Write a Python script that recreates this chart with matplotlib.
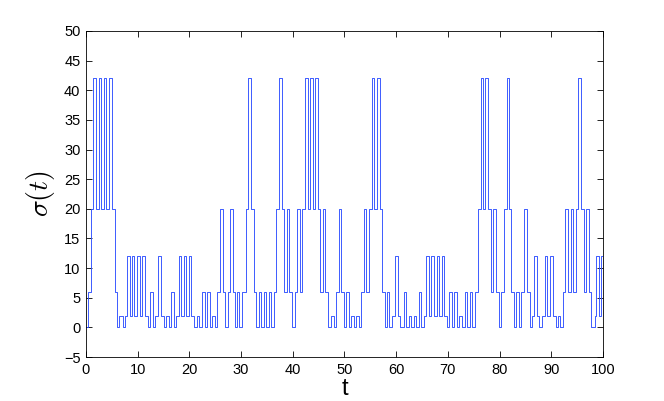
import numpy as np
import matplotlib
matplotlib.use("Agg")
import matplotlib.pyplot as plt

# switching instants and the mode value held from each instant on
t_switch = [0, 0.35, 0.94, 1.45, 1.90, 2.48, 3.00, 3.39, 3.90, 4.36, 5.00, 5.52,
            5.97, 6.42, 7.07, 7.52, 7.97, 8.42, 8.88, 9.33, 9.84, 10.36, 10.87, 11.45,
            11.90, 12.36, 12.94, 13.39, 13.84, 14.55, 15.00, 15.46, 15.97, 16.42, 16.94, 17.39,
            17.91, 18.36, 18.88, 19.33, 19.85, 20.36, 20.81, 21.46, 21.91, 22.43, 22.94, 23.40,
            23.91, 24.36, 24.88, 25.33, 25.85, 26.43, 26.81, 27.46, 27.85, 28.37, 28.75, 29.20,
            29.65, 30.17, 30.94, 31.40, 31.90, 32.43, 32.88, 33.40, 33.85, 34.36, 34.82, 35.33,
            35.78, 36.30, 36.82, 37.33, 37.92, 38.37, 38.88, 39.27, 39.85, 40.37, 40.82, 41.33,
            41.79, 42.30, 42.88, 43.34, 43.85, 44.24, 44.82, 45.34, 45.86, 46.31, 46.76, 47.40,
            47.92, 48.37, 48.89, 49.34, 49.95, 50.37, 50.82, 51.34, 51.79, 52.30, 52.76, 53.21,
            53.73, 54.18, 54.70, 55.34, 55.79, 56.30, 56.82, 57.27, 57.79, 58.25, 58.70, 59.21,
            59.86, 60.37, 60.83, 61.47, 61.92, 62.44, 62.89, 63.41, 63.86, 64.38, 64.83, 65.34,
            65.86, 66.38, 66.83, 67.35, 67.80, 68.31, 68.83, 69.34, 69.86, 70.31, 70.83, 71.28,
            71.80, 72.18, 72.64, 73.28, 73.73, 74.25, 74.70, 75.22, 75.80, 76.32, 76.77, 77.16,
            77.74, 78.25, 78.77, 79.35, 79.86, 80.31, 80.83, 81.35, 81.87, 82.25, 82.77, 83.22,
            83.74, 84.19, 84.70, 85.35, 85.80, 86.32, 86.70, 87.17, 87.60, 88.25, 88.77, 89.22,
            89.74, 90.32, 90.84, 91.29, 91.68, 92.26, 92.65, 93.23, 93.74, 94.26, 94.84, 95.22,
            95.80, 96.32, 96.77, 97.29, 97.74, 98.39, 98.71, 99.22, 99.55]
sigma = [0, 6, 20, 42, 20, 42, 20, 42, 20, 42, 20, 6,
         0, 2, 0, 2, 12, 2, 12, 2, 12, 2, 12, 2,
         0, 6, 0, 2, 12, 2, 0, 2, 0, 6, 0, 2,
         12, 2, 12, 2, 12, 2, 0, 2, 0, 6, 0, 6,
         0, 2, 0, 6, 20, 6, 0, 6, 20, 6, 0, 6,
         0, 6, 20, 42, 20, 6, 0, 6, 0, 6, 0, 6,
         0, 6, 20, 42, 20, 6, 20, 6, 0, 6, 20, 6,
         20, 42, 20, 42, 20, 42, 20, 6, 20, 6, 0, 2,
         0, 6, 20, 6, 0, 6, 0, 2, 0, 2, 0, 6,
         20, 6, 20, 42, 20, 42, 20, 6, 0, 6, 0, 2,
         12, 2, 0, 6, 0, 2, 0, 2, 0, 6, 0, 2,
         12, 2, 12, 2, 12, 2, 12, 2, 0, 6, 0, 6,
         0, 2, 0, 6, 0, 6, 0, 6, 20, 42, 20, 42,
         20, 6, 20, 6, 0, 6, 20, 42, 20, 6, 0, 6,
         0, 6, 20, 6, 0, 2, 12, 2, 0, 2, 12, 2,
         12, 2, 0, 2, 0, 6, 20, 6, 20, 6, 20, 42,
         20, 6, 20, 6, 0, 2, 12, 2, 12]
t_end = 100

x_ticks = list(range(0, 101, 10))
y_ticks = list(range(-5, 51, 5))

plt.rcParams['font.family'] = ['Liberation Sans', 'DejaVu Sans']
plt.rcParams['mathtext.fontset'] = 'cm'

fig = plt.figure(figsize=(6.64, 4.01), dpi=100)
ax = fig.add_axes([0.1295, 0.1097, 0.7786, 0.813])

tt = np.append(t_switch, t_end)
ss = np.append(sigma, sigma[-1])
ax.step(tt, ss, where='post', color='#2f50ff', lw=0.65)

ax.set_xlim(0, 100)
ax.set_ylim(-5, 50)
ax.set_xticks(x_ticks)
ax.set_yticks(y_ticks)
ax.tick_params(direction='in', length=4, width=0.6, labelsize=10.5,
               top=True, right=True, pad=4)
for sp in ax.spines.values():
    sp.set_linewidth(0.6)

ax.set_xlabel('t', fontsize=17, labelpad=1)
ax.set_ylabel(r'$\sigma(t)$', fontsize=20, labelpad=5)

plt.savefig("out.png", dpi=100)
